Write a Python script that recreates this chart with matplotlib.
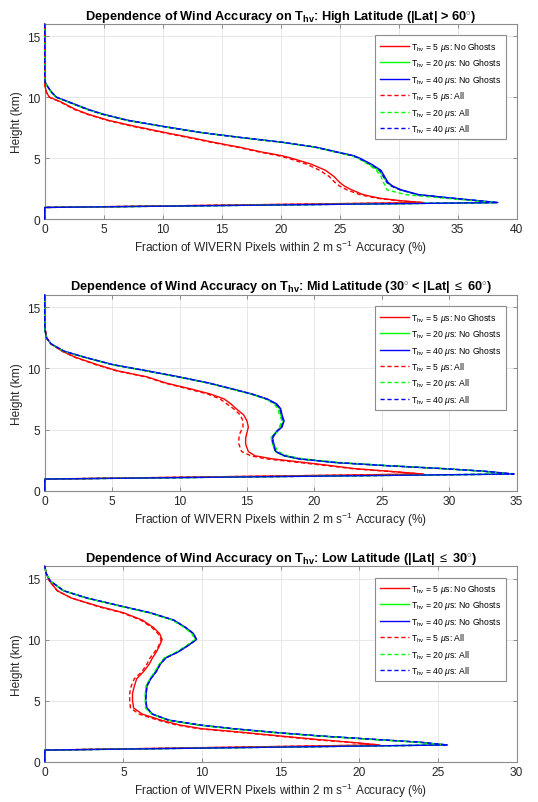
import numpy as np
import matplotlib
matplotlib.use('Agg')
import matplotlib.pyplot as plt

plt.rcParams['font.family'] = ['Liberation Sans', 'DejaVu Sans']
plt.rcParams['mathtext.fontset'] = 'custom'
plt.rcParams['mathtext.rm'] = 'Liberation Sans'
plt.rcParams['mathtext.it'] = 'Liberation Sans:italic'
plt.rcParams['mathtext.bf'] = 'Liberation Sans:bold'

# ---- High latitude (|Lat| > 60) ----
height_high = [0, 0.95, 1.35, 1.5, 1.7, 2.0, 2.4, 2.7, 3.0, 3.5, 4.0, 4.5, 5.0, 5.2, 5.5,
               5.9, 6.3, 6.7, 7.1, 7.6, 8.1, 8.6, 9.0, 9.6, 10.0, 10.4, 10.8, 11.2, 11.6, 16]
high_red_ng = [0, 0, 32.1, 30.2, 28.4, 27.0, 26.0, 25.4, 25.0, 24.5, 23.8, 22.6, 20.9, 20.1, 18.4,
               16.5, 14.3, 12.3, 10.2, 7.7, 5.4, 3.7, 2.6, 1.4, 0.4, 0.15, 0.05, 0, 0, 0]
high_green_ng = [0, 0, 38.3, 36.7, 34.6, 31.6, 30.1, 29.4, 29.0, 28.7, 28.3, 27.5, 26.6, 26.1, 24.7,
                 22.9, 20.1, 16.5, 13.2, 10.0, 7.0, 4.9, 3.6, 2.0, 0.95, 0.55, 0.28, 0.05, 0, 0]
high_blue_ng = [0, 0, 38.4, 36.8, 34.7, 31.7, 30.2, 29.5, 29.1, 28.8, 28.5, 27.7, 26.7, 26.2, 24.8,
                23.0, 20.2, 16.6, 13.3, 10.1, 7.1, 5.0, 3.7, 2.1, 1.0, 0.6, 0.3, 0.05, 0, 0]
high_red_all = [0, 0, 32.0, 30.0, 28.2, 26.7, 25.6, 25.0, 24.6, 24.1, 23.3, 22.2, 20.6, 19.8, 18.2,
                16.3, 14.1, 12.1, 10.0, 7.5, 5.3, 3.6, 2.5, 1.35, 0.4, 0.15, 0.05, 0, 0, 0]
high_green_all = [0, 0, 38.2, 36.4, 34.0, 30.6, 29.0, 28.9, 28.7, 28.5, 28.1, 27.4, 26.5, 26.0, 24.6,
                  22.9, 20.0, 16.5, 13.2, 10.0, 7.0, 4.9, 3.6, 2.0, 0.95, 0.55, 0.28, 0.05, 0, 0]
high_blue_all = [0, 0, 38.4, 36.8, 34.6, 31.6, 30.1, 29.4, 29.0, 28.7, 28.4, 27.6, 26.6, 26.1, 24.7,
                 22.9, 20.1, 16.5, 13.2, 10.0, 7.0, 4.9, 3.6, 2.05, 1.0, 0.6, 0.3, 0.05, 0, 0]

# ---- Mid latitude (30 < |Lat| <= 60) ----
height_mid = [0, 0.95, 1.36, 1.6, 1.8, 2.05, 2.3, 2.6, 2.85, 3.2, 3.8, 4.3, 4.75, 5.2, 5.7, 6.2,
              6.7, 7.1, 7.5, 7.9, 8.3, 8.8, 9.3, 9.8, 10.3, 10.9, 11.4, 12.0, 12.5, 13.2, 14.0, 16]
mid_red_ng = [0, 0, 28.1, 25.4, 23.0, 21.2, 19.3, 16.9, 15.6, 15.1, 14.9, 14.9, 15.0, 15.1, 15.0, 14.75,
              14.2, 13.8, 13.3, 12.3, 10.9, 9.0, 7.6, 5.4, 3.9, 2.3, 1.3, 0.45, 0.15, 0.03, 0, 0]
mid_green_ng = [0, 0, 34.7, 32.4, 29.5, 25.2, 21.5, 18.8, 17.7, 17.1, 16.9, 16.8, 17.1, 17.5, 17.7, 17.5,
                17.4, 17.1, 16.4, 15.3, 13.9, 12.1, 9.9, 7.5, 5.0, 2.95, 1.4, 0.47, 0.12, 0.02, 0, 0]
mid_blue_ng = [0, 0, 34.8, 32.5, 29.6, 25.3, 21.6, 18.9, 17.8, 17.15, 17.0, 16.9, 17.15, 17.6, 17.75, 17.6,
               17.5, 17.2, 16.5, 15.4, 14.0, 12.2, 10.0, 7.6, 5.1, 3.0, 1.45, 0.48, 0.12, 0.02, 0, 0]
mid_red_all = [0, 0, 28.0, 25.2, 22.8, 20.9, 18.9, 16.4, 15.3, 14.6, 14.4, 14.4, 14.5, 14.7, 14.7, 14.5,
               14.0, 13.5, 13.0, 12.1, 10.7, 8.9, 7.5, 5.3, 3.8, 2.25, 1.3, 0.45, 0.15, 0.03, 0, 0]
mid_green_all = [0, 0, 34.6, 32.3, 29.7, 25.6, 22.0, 19.2, 18.0, 17.3, 17.0, 16.75, 17.2, 17.4, 17.6, 17.4,
                 17.3, 17.0, 16.4, 15.3, 13.9, 12.1, 9.9, 7.5, 5.0, 2.95, 1.4, 0.47, 0.12, 0.02, 0, 0]
mid_blue_all = [0, 0, 34.8, 32.5, 29.6, 25.3, 21.6, 18.9, 17.8, 17.1, 16.95, 16.85, 17.1, 17.55, 17.7, 17.55,
                17.45, 17.15, 16.45, 15.35, 13.95, 12.15, 9.95, 7.55, 5.05, 3.0, 1.45, 0.48, 0.12, 0.02, 0, 0]

# ---- Low latitude (|Lat| <= 30) ----
height_low = [0, 0.95, 1.37, 1.6, 1.8, 2.1, 2.4, 2.7, 3.0, 3.4, 3.9, 4.4, 5.0, 5.6, 6.2, 6.8,
              7.4, 8.0, 8.5, 9.0, 9.5, 10.0, 10.5, 11.0, 11.6, 12.2, 12.7, 13.4, 14.0, 14.8, 15.4, 16]
low_red_ng = [0, 0, 21.3, 19.4, 17.5, 15.0, 12.6, 10.0, 8.6, 7.4, 6.2, 5.65, 5.58, 5.58, 5.7, 5.85,
              6.3, 6.65, 6.85, 7.1, 7.3, 7.46, 7.3, 6.9, 6.2, 5.0, 3.5, 1.7, 0.8, 0.3, 0.1, 0]
low_green_ng = [0, 0, 25.5, 23.7, 21.2, 17.5, 14.5, 11.9, 9.8, 7.85, 6.8, 6.45, 6.4, 6.4, 6.45, 6.7,
                7.05, 7.3, 7.65, 8.45, 9.05, 9.6, 9.4, 8.9, 8.15, 6.65, 4.95, 2.65, 1.2, 0.35, 0.1, 0]
low_blue_ng = [0, 0, 25.6, 23.8, 21.3, 17.6, 14.6, 12.0, 9.9, 7.9, 6.85, 6.5, 6.42, 6.45, 6.5, 6.75,
               7.1, 7.35, 7.7, 8.5, 9.1, 9.65, 9.45, 8.95, 8.2, 6.7, 5.0, 2.7, 1.2, 0.35, 0.1, 0]
low_red_all = [0, 0, 21.2, 19.2, 17.2, 14.8, 12.4, 9.8, 8.4, 7.2, 6.0, 5.45, 5.4, 5.4, 5.5, 5.7,
               6.2, 6.5, 6.7, 7.0, 7.25, 7.4, 7.2, 6.8, 6.1, 4.9, 3.4, 1.7, 0.8, 0.3, 0.1, 0]
low_green_all = [0, 0, 25.5, 23.6, 21.1, 17.4, 14.4, 11.8, 9.8, 7.8, 6.8, 6.4, 6.4, 6.4, 6.45, 6.7,
                 7.0, 7.3, 7.6, 8.4, 9.0, 9.55, 9.35, 8.85, 8.1, 6.6, 4.9, 2.65, 1.2, 0.35, 0.1, 0]
low_blue_all = [0, 0, 25.6, 23.8, 21.3, 17.6, 14.6, 12.0, 9.9, 7.9, 6.85, 6.5, 6.42, 6.45, 6.5, 6.75,
                7.1, 7.35, 7.7, 8.5, 9.1, 9.65, 9.45, 8.95, 8.2, 6.7, 5.0, 2.7, 1.2, 0.35, 0.1, 0]

labels = [r'T$_\mathrm{hv}$ = 5 $\mu$s: No Ghosts',
          r'T$_\mathrm{hv}$ = 20 $\mu$s: No Ghosts',
          r'T$_\mathrm{hv}$ = 40 $\mu$s: No Ghosts',
          r'T$_\mathrm{hv}$ = 5 $\mu$s: All',
          r'T$_\mathrm{hv}$ = 20 $\mu$s: All',
          r'T$_\mathrm{hv}$ = 40 $\mu$s: All']
colors = ['#ff0000', '#00ff00', '#0000ff', '#ff0000', '#00ff00', '#0000ff']
styles = ['-', '-', '-', (0, (3, 2)), (0, (3, 2)), (0, (3, 2))]

panels = [
    (r'Dependence of Wind Accuracy on T$_\mathbf{hv}$: High Latitude (|Lat| > 60$^{\circ}$)',
     height_high, [high_red_ng, high_green_ng, high_blue_ng, high_red_all, high_green_all, high_blue_all], 40),
    (r'Dependence of Wind Accuracy on T$_\mathbf{hv}$: Mid Latitude (30$^{\circ}$ < |Lat| $\leq$ 60$^{\circ}$)',
     height_mid, [mid_red_ng, mid_green_ng, mid_blue_ng, mid_red_all, mid_green_all, mid_blue_all], 35),
    (r'Dependence of Wind Accuracy on T$_\mathbf{hv}$: Low Latitude (|Lat| $\leq$ 30$^{\circ}$)',
     height_low, [low_red_ng, low_green_ng, low_blue_ng, low_red_all, low_green_all, low_blue_all], 30),
]

rects = [[0.0831, 0.726, 0.8773, 0.2427],
         [0.0831, 0.3877, 0.8773, 0.2437],
         [0.0831, 0.0502, 0.8773, 0.2433]]

fig = plt.figure(figsize=(5.38, 8.03), dpi=100)
text_col = '#262626'
for (title, h, series, xmax), rect in zip(panels, rects):
    ax = fig.add_axes(rect)
    for x, c, ls, lab in zip(series, colors, styles, labels):
        ax.plot(x, h, color=c, linestyle=ls, lw=1.0, label=lab, zorder=3, clip_on=False)
    ax.set_xlim(0, xmax)
    ax.set_ylim(0, 16)
    ax.set_xticks(np.arange(0, xmax + 1, 5))
    ax.set_yticks([0, 5, 10, 15])
    ax.grid(True, color='#e3e3e3', lw=0.6)
    ax.set_axisbelow(True)
    ax.tick_params(direction='in', top=True, right=True, length=3, width=0.6,
                   labelsize=8.6, colors='#808080', labelcolor=text_col, pad=3)
    for sp in ax.spines.values():
        sp.set_color('#8c8c8c')
        sp.set_linewidth(0.8)
    ax.set_title(title, fontsize=9.2, fontweight='bold', color='black', pad=4)
    ax.set_xlabel(r'Fraction of WIVERN Pixels within 2 m s$^{-1}$ Accuracy (%)', fontsize=8.6,
                  color=text_col, labelpad=2)
    ax.set_ylabel('Height (km)', fontsize=8.6, color=text_col, labelpad=3)
    leg = ax.legend(loc='upper right', bbox_to_anchor=(0.977, 0.942), borderaxespad=0,
                    fontsize=6.2, handlelength=3.4, labelspacing=0.4, handletextpad=0.3,
                    borderpad=0.5, fancybox=False, framealpha=1)
    leg.get_frame().set_edgecolor('#8c8c8c')
    leg.get_frame().set_linewidth(0.8)

fig.savefig('out.png', dpi=100)
